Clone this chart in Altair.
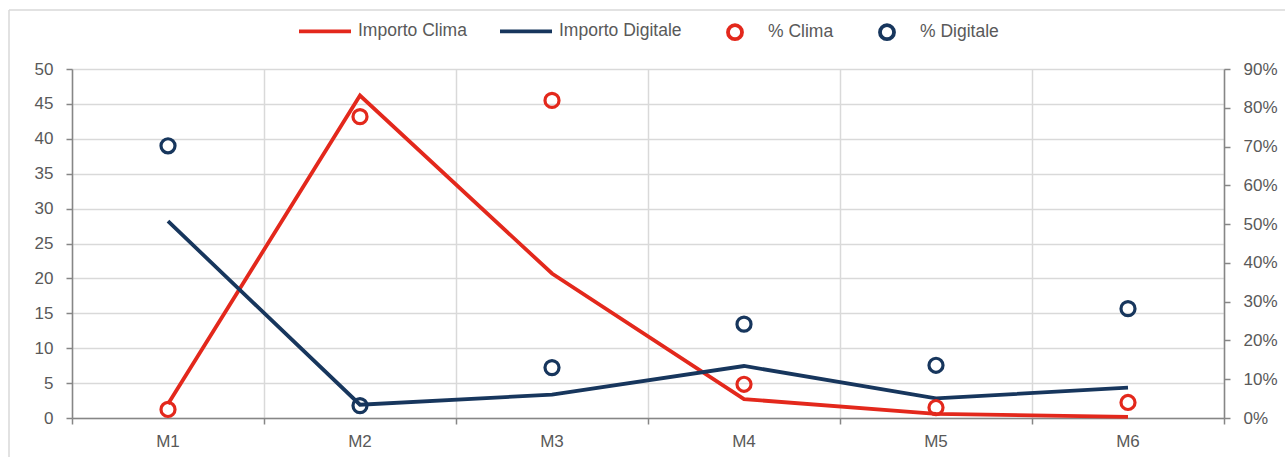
import altair as alt
import pandas as pd

# Monthly amounts (left axis) and shares (right axis)
mesi = ["M1", "M2", "M3", "M4", "M5", "M6"]
importo_clima = [2.0, 46.2, 20.7, 2.7, 0.6, 0.15]
importo_digitale = [28.2, 1.9, 3.35, 7.45, 2.8, 4.35]
pct_clima = [0.022, 0.777, 0.819, 0.087, 0.027, 0.040]
pct_digitale = [0.702, 0.032, 0.130, 0.242, 0.136, 0.282]

serie_importo = ["Importo Clima", "Importo Digitale"]
serie_pct = ["% Clima", "% Digitale"]
serie = serie_importo + serie_pct

ROSSO = "#E3281C"
BLU = "#17365D"
colori = [ROSSO, BLU, ROSSO, BLU]

FONT = "Liberation Sans"
GRIGIO_TESTO = "#595959"
GRIGIO_ASSE = "#868686"
GRIGIO_GRIGLIA = "#D9D9D9"

# All symbols share one size, so legend entries line up; the circle is a
# small custom path inside the unit box, the line symbol spans the full box
# (its two leading moves give it the same height as the circle).
SIMBOLO = 2704
LINEA = "M 0,-0.34 M 0,0.34 M -1,0 L 1,0"
CERCHIO = "M 0.27,0 A 0.27,0.27 0 1,1 -0.27,0 A 0.27,0.27 0 1,1 0.27,0 Z"

rows = []
for nome, valori in zip(serie, [importo_clima, importo_digitale, pct_clima, pct_digitale]):
    for m, v in zip(mesi, valori):
        rows.append({"mese": m, "serie": nome, "valore": v})
df = pd.DataFrame(rows)

W, H = 1152, 349

x_enc = alt.X(
    "mese:N",
    sort=mesi,
    bandPosition=0.5,
    scale=alt.Scale(type="band", domain=mesi, paddingInner=0, paddingOuter=0),
    axis=alt.Axis(
        title=None,
        bandPosition=1,
        tickExtra=True,
        labelAngle=0,
        labelPadding=9,
        tickSize=6,
        grid=True,
        gridColor=GRIGIO_GRIGLIA,
        gridWidth=1.5,
        domainColor=GRIGIO_ASSE,
        domainWidth=1.5,
        tickColor=GRIGIO_ASSE,
        tickWidth=1.5,
    ),
)

y_sin = alt.Y(
    "valore:Q",
    scale=alt.Scale(domain=[0, 50], nice=False),
    axis=alt.Axis(
        title=None,
        orient="left",
        values=list(range(0, 51, 5)),
        grid=True,
        gridColor=GRIGIO_GRIGLIA,
        gridWidth=1.5,
        domainColor=GRIGIO_ASSE,
        domainWidth=1.5,
        tickColor=GRIGIO_ASSE,
        tickWidth=1.5,
        tickSize=6,
        labelPadding=13,
    ),
)

base = alt.Chart(df)

# one line per amount series, each in its own colour
linee = alt.layer(*[
    base.transform_filter(alt.datum.serie == nome)
    .mark_line(strokeWidth=3.8, color=c)
    .encode(x=x_enc, y=y_sin)
    for nome, c in zip(serie_importo, [ROSSO, BLU])
])

punti = base.transform_filter(
    alt.FieldOneOfPredicate(field="serie", oneOf=serie_pct)
).mark_point(filled=False, strokeWidth=3.2, opacity=1, size=SIMBOLO).encode(
    x=x_enc,
    y=alt.Y(
        "valore:Q",
        scale=alt.Scale(domain=[0, 0.9], nice=False),
        axis=alt.Axis(
            title=None,
            orient="right",
            values=[i / 10 for i in range(0, 10)],
            format=".0%",
            grid=False,
            domainColor=GRIGIO_ASSE,
            domainWidth=1.5,
            tickColor=GRIGIO_ASSE,
            tickWidth=1.5,
            tickSize=6,
            labelPadding=13,
        ),
    ),
    color=alt.Color(
        "serie:N",
        scale=alt.Scale(domain=serie, range=colori),
        legend=alt.Legend(
            title=None,
            orient="none",
            direction="horizontal",
            legendX=225,
            legendY=-66,
            padding=0,
            columnPadding=25,
            labelOffset=5,
            symbolStrokeWidth=3.8,
            symbolSize=SIMBOLO,
        ),
    ),
    shape=alt.Shape(
        "serie:N",
        scale=alt.Scale(domain=serie, range=[LINEA, LINEA, CERCHIO, CERCHIO]),
    ),
)

# light frame around the whole figure
cornice = pd.DataFrame({"k": [0]})
bordo_sup = alt.Chart(cornice).mark_rule(color=GRIGIO_GRIGLIA, strokeWidth=1.5).encode(
    x=alt.value(-63), x2=alt.value(W + 80), y=alt.value(-59)
)
bordo_sin = alt.Chart(cornice).mark_rule(color=GRIGIO_GRIGLIA, strokeWidth=1.5).encode(
    x=alt.value(-63), y=alt.value(-59), y2=alt.value(H + 60)
)

chart = (
    alt.layer(linee, punti, bordo_sup, bordo_sin)
    .resolve_scale(y="independent")
    .properties(
        width=W,
        height=H,
        autosize=alt.AutoSizeParams(type="none"),
        padding={"left": 72, "top": 69, "right": 61, "bottom": 39},
        background="white",
    )
    .configure_view(stroke="transparent")
    .configure_axis(
        labelFont=FONT,
        labelFontSize=17,
        labelColor=GRIGIO_TESTO,
    )
    .configure_legend(
        labelFont=FONT,
        labelFontSize=17.5,
        labelColor=GRIGIO_TESTO,
    )
)

chart.save("out.html", embed_options={"renderer": "svg", "actions": False})
